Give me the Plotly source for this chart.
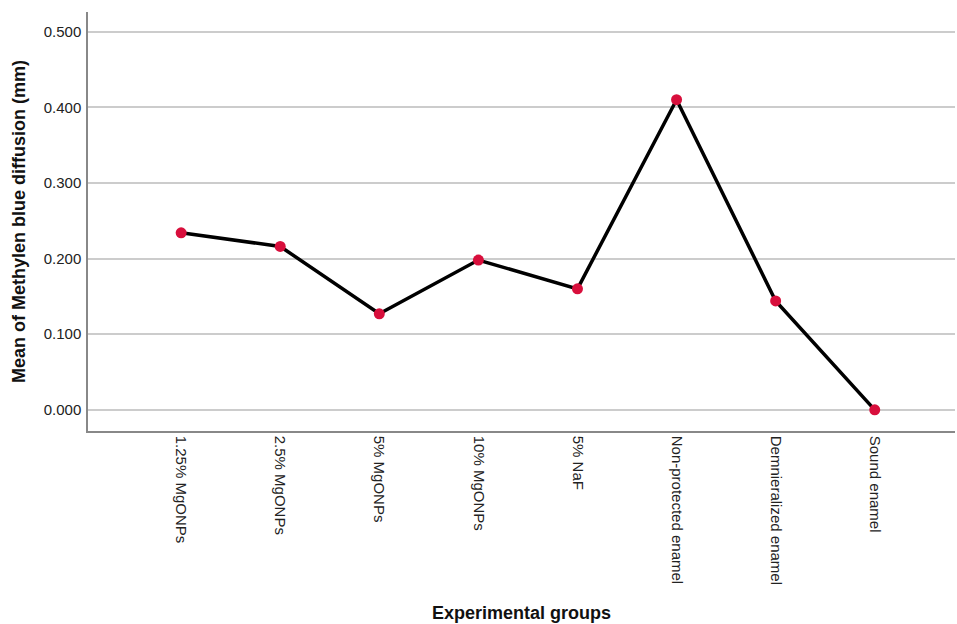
import plotly.graph_objects as go

# Mean methylene blue diffusion per experimental group (mm)
groups = [
    "1.25% MgONPs",
    "2.5% MgONPs",
    "5% MgONPs",
    "10% MgONPs",
    "5% NaF",
    "Non-protected enamel",
    "Demnieralized enamel",
    "Sound enamel",
]
mean_diffusion = [0.234, 0.216, 0.127, 0.198, 0.160, 0.410, 0.144, 0.000]

y_ticks = [0.0, 0.1, 0.2, 0.3, 0.4, 0.5]
y_tick_labels = ["0.000", "0.100", "0.200", "0.300", "0.400", "0.500"]

font_family = "Liberation Sans, Arial, sans-serif"

fig = go.Figure()
fig.add_trace(
    go.Scatter(
        x=groups,
        y=mean_diffusion,
        mode="lines+markers",
        line=dict(color="black", width=3.5),
        marker=dict(color="#d80f3c", size=11, line=dict(width=0)),
        showlegend=False,
    )
)

fig.update_layout(
    width=957,
    height=624,
    margin=dict(l=88, r=2, t=12, b=193),
    paper_bgcolor="white",
    plot_bgcolor="white",
    font=dict(family=font_family, color="#222222", size=15),
)

fig.update_xaxes(
    type="category",
    categoryorder="array",
    categoryarray=groups,
    range=[-0.94, 7.81],
    tickangle=90,
    tickfont=dict(size=15, color="#222222"),
    showline=True,
    linecolor="#888888",
    linewidth=1.5,
    showgrid=False,
    ticks="",
    title=dict(
        text="<b>Experimental groups</b>",
        font=dict(size=18, color="#111111"),
        standoff=22,
    ),
    automargin=False,
)

fig.update_yaxes(
    range=[-0.028, 0.526],
    tickvals=y_ticks,
    ticktext=y_tick_labels,
    tickfont=dict(size=15, color="#222222"),
    showline=True,
    linecolor="#888888",
    linewidth=1.5,
    showgrid=True,
    gridcolor="#cccccc",
    gridwidth=1.5,
    zeroline=False,
    ticks="",
    ticklabelstandoff=2,
    title=dict(
        text="<b>Mean of Methylen blue diffusion (mm)</b>",
        font=dict(size=18, color="#111111"),
        standoff=13,
    ),
    automargin=False,
)

fig.write_html("out.html")
